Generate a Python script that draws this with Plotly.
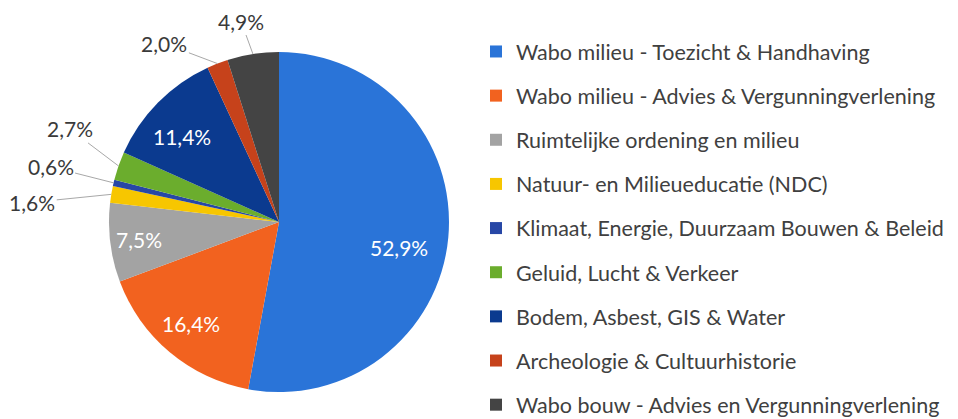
import math
import plotly.graph_objects as go

categories = [
    "Wabo milieu - Toezicht & Handhaving",
    "Wabo milieu - Advies & Vergunningverlening",
    "Ruimtelijke ordening en milieu",
    "Natuur- en Milieueducatie (NDC)",
    "Klimaat, Energie, Duurzaam Bouwen & Beleid",
    "Geluid, Lucht & Verkeer",
    "Bodem, Asbest, GIS & Water",
    "Archeologie & Cultuurhistorie",
    "Wabo bouw - Advies en Vergunningverlening",
]
values = [52.9, 16.4, 7.5, 1.6, 0.6, 2.7, 11.4, 2.0, 4.9]

colors = ["#2A74D8", "#F2621F", "#A3A3A3", "#F7C600", "#2747A6",
          "#6BAD2D", "#0B3A8F", "#C6421B", "#444444"]

# page body margin offset (the figure div sits 8px from the window corner)
OFF = 8
W, H = 990, 440
FONT = "Lato"

# pie geometry in window pixels (style)
cx_s, cy_s, r_px = 279, 222, 170
cx_px, cy_px = cx_s - OFF, cy_s - OFF
dom_x = [(cx_px - r_px) / W, (cx_px + r_px) / W]
dom_y = [(H - cy_px - r_px) / H, (H - cy_px + r_px) / H]

total = sum(values)
labels_txt = [f"{v / total * 100:.1f}%".replace(".", ",") for v in values]

# label placement style: inside -> (radius factor, angle shift deg); outside -> pixel offset
inside_style = {0: (0.72, 7), 1: (0.79, 1), 2: (0.83, 0), 6: (0.76, -3)}
outside_style = {3: (-79, 8), 4: (-63, -16), 5: (-49, -37), 7: (-53, -20), 8: (-12, -33)}

fig = go.Figure()
fig.add_trace(go.Pie(
    labels=categories,
    values=values,
    sort=False,
    direction="clockwise",
    rotation=0,
    marker=dict(colors=colors, line=dict(width=0)),
    textinfo="none",
    domain=dict(x=dom_x, y=dom_y),
    showlegend=False,
    hoverinfo="label+percent",
))

# legend entries (one group per category for row spacing)
for name, col in zip(categories, colors):
    fig.add_trace(go.Scatter(
        x=[None], y=[None], mode="markers", name=name,
        marker=dict(symbol="square", size=12, color=col),
        legendgroup=name, showlegend=True,
    ))

cum = 0.0
for i, v in enumerate(values):
    mid = (cum + v / 2) / total
    cum += v
    th = 2 * math.pi * mid
    if i in inside_style:
        f, dth = inside_style[i]
        t2 = th + math.radians(dth)
        px = cx_px + f * r_px * math.sin(t2)
        py = cy_px - f * r_px * math.cos(t2)
        fig.add_annotation(
            x=px / W, y=1 - py / H, xref="paper", yref="paper",
            xanchor="center", yanchor="middle",
            text=labels_txt[i], showarrow=False,
            font=dict(size=21, color="white", family=FONT),
        )
    else:
        px = cx_px + r_px * math.sin(th)
        py = cy_px - r_px * math.cos(th)
        ax, ay = outside_style[i]
        fig.add_annotation(
            x=px / W, y=1 - py / H, xref="paper", yref="paper",
            text=labels_txt[i], showarrow=True, arrowhead=0, arrowwidth=1,
            arrowcolor="#A8A8A8", ax=ax, ay=ay, standoff=0,
            font=dict(size=21, color="#3A3A3A", family=FONT),
        )

fig.update_layout(
    width=W, height=H,
    margin=dict(l=0, r=0, t=0, b=0),
    paper_bgcolor="white", plot_bgcolor="white",
    xaxis=dict(visible=False), yaxis=dict(visible=False),
    legend=dict(
        x=(476 - OFF) / W, xanchor="left", y=1 - 23 / H, yanchor="top",
        font=dict(size=21.5, color="#404040", family=FONT),
        tracegroupgap=13.2, itemwidth=30, bgcolor="rgba(0,0,0,0)",
    ),
    font=dict(family=FONT),
)

fig.write_html("out.html")
